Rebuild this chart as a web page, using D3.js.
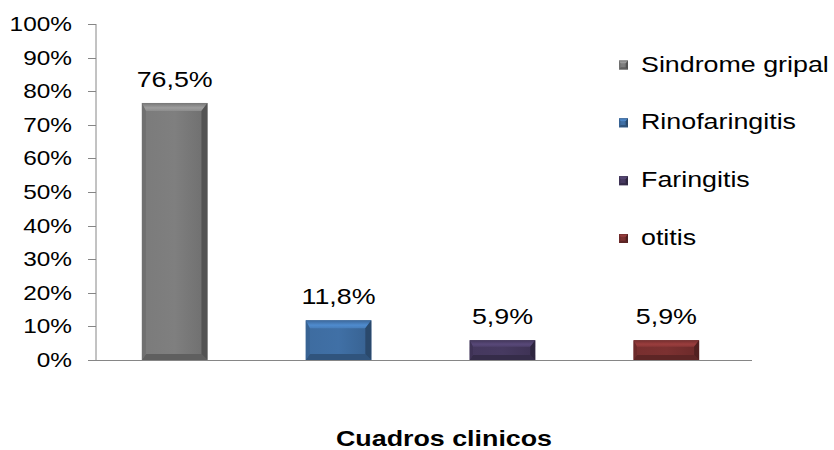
<!DOCTYPE html>
<html>
<head>
<meta charset="utf-8">
<script src="https://cdn.jsdelivr.net/npm/d3@7"></script>
<style>
  body { margin: 0; background: #fff; }
  svg { display: block; font-family: "Liberation Sans", Arial, sans-serif; }
</style>
</head>
<body>
<div id="chart"></div>
<script>
const categories = ['Sindrome gripal', 'Rinofaringitis', 'Faringitis', 'otitis'];
const values = [76.5, 11.8, 5.9, 5.9];
const valueLabels = ['76,5%', '11,8%', '5,9%', '5,9%'];
const yTicks = [0, 10, 20, 30, 40, 50, 60, 70, 80, 90, 100];
const colors = ['#7f7f7f', '#4070a6', '#473a61', '#7c3131'];
const xTitle = 'Cuadros clinicos';

const width = 834, height = 450;
const stretch = 1.22; // text in the picture is drawn a bit wide

const svg = d3.select('#chart').append('svg')
    .attr('width', width)
    .attr('height', height);

const x = d3.scaleBand()
    .domain(categories)
    .range([96, 745])
    .paddingInner(0.6)
    .paddingOuter(0.28);

const y = d3.scaleLinear()
    .domain([0, 100])
    .range([360, 24]);

const axisColor = '#868686';

// gradients per colour
const defs = svg.append('defs');
colors.forEach((c, i) => {
    const g = defs.append('linearGradient')
        .attr('id', 'grad' + i)
        .attr('x1', 0).attr('x2', 1).attr('y1', 0).attr('y2', 0);
    g.append('stop').attr('offset', '0%').attr('stop-color', d3.color(c).darker(0.1));
    g.append('stop').attr('offset', '50%').attr('stop-color', c);
    g.append('stop').attr('offset', '100%').attr('stop-color', d3.color(c).darker(0.4));
    const t = defs.append('linearGradient')
        .attr('id', 'top' + i)
        .attr('x1', 0).attr('x2', 0).attr('y1', 0).attr('y2', 1);
    t.append('stop').attr('offset', '0%').attr('stop-color', d3.color(c).darker(0.2));
    t.append('stop').attr('offset', '60%').attr('stop-color', d3.color(c).brighter(0.6));
    t.append('stop').attr('offset', '100%').attr('stop-color', d3.color(c).brighter(0.3));
});

function wideText(parent, tx, ty, str, size, anchor, weight) {
    return parent.append('text')
        .attr('transform', `translate(${tx},${ty}) scale(${stretch},1)`)
        .attr('font-size', size)
        .attr('font-weight', weight || 'normal')
        .attr('text-anchor', anchor)
        .attr('fill', '#000')
        .text(str);
}

// y axis
const yAxis = svg.append('g');
yAxis.append('line')
    .attr('x1', 96).attr('x2', 96)
    .attr('y1', y(100)).attr('y2', y(0))
    .attr('stroke', axisColor);
yTicks.forEach(t => {
    yAxis.append('line')
        .attr('x1', 88).attr('x2', 96)
        .attr('y1', Math.round(y(t)) + 0.5).attr('y2', Math.round(y(t)) + 0.5)
        .attr('stroke', axisColor);
    wideText(yAxis, 72, y(t) + 7, t + '%', 20, 'end');
});

// x axis line
svg.append('line')
    .attr('x1', 96).attr('x2', 752)
    .attr('y1', y(0) + 0.5).attr('y2', y(0) + 0.5)
    .attr('stroke', axisColor);

// bevelled bars
function bevelBar(g, x0, y0, w, h, i) {
    const c = colors[i];
    const k = Math.min(1, h / 24);
    const bt = 8 * k, bb = 6 * k, bl = 4 * k, br = 6 * k;
    const x1 = x0 + w, y1 = y0 + h;
    g.append('rect')
        .attr('x', x0).attr('y', y0).attr('width', w).attr('height', h)
        .attr('fill', `url(#grad${i})`);
    const pts = {
        top: [[x0, y0], [x1, y0], [x1 - br, y0 + bt], [x0 + bl, y0 + bt]],
        bottom: [[x0, y1], [x1, y1], [x1 - br, y1 - bb], [x0 + bl, y1 - bb]],
        left: [[x0, y0], [x0 + bl, y0 + bt], [x0 + bl, y1 - bb], [x0, y1]],
        right: [[x1, y0], [x1 - br, y0 + bt], [x1 - br, y1 - bb], [x1, y1]]
    };
    const shade = {
        top: `url(#top${i})`,
        bottom: d3.color(c).darker(0.8),
        left: d3.color(c).darker(0.35),
        right: d3.color(c).darker(1.2)
    };
    Object.keys(pts).forEach(s => {
        g.append('polygon')
            .attr('points', pts[s].map(p => p.join(',')).join(' '))
            .attr('fill', shade[s]);
    });
}

const bars = svg.append('g');
categories.forEach((cat, i) => {
    const x0 = x(cat);
    const y0 = y(values[i]);
    const h = y(0) - y0;
    bevelBar(bars, x0, y0, x.bandwidth(), h, i);
    wideText(bars, x0 + x.bandwidth() / 2, y0 - 16, valueLabels[i], 22, 'middle');
});

// legend
const legend = svg.append('g');
const legendY = d3.scalePoint().domain(categories).range([71.5, 245]);
categories.forEach((cat, i) => {
    const ly = legendY(cat);
    bevelBar(legend, 619, ly - 11, 9, 9, i);
    wideText(legend, 641, ly, cat, 22, 'start');
});

// x title
wideText(svg, 444, 446, xTitle, 22, 'middle', 'bold');
</script>
</body>
</html>
